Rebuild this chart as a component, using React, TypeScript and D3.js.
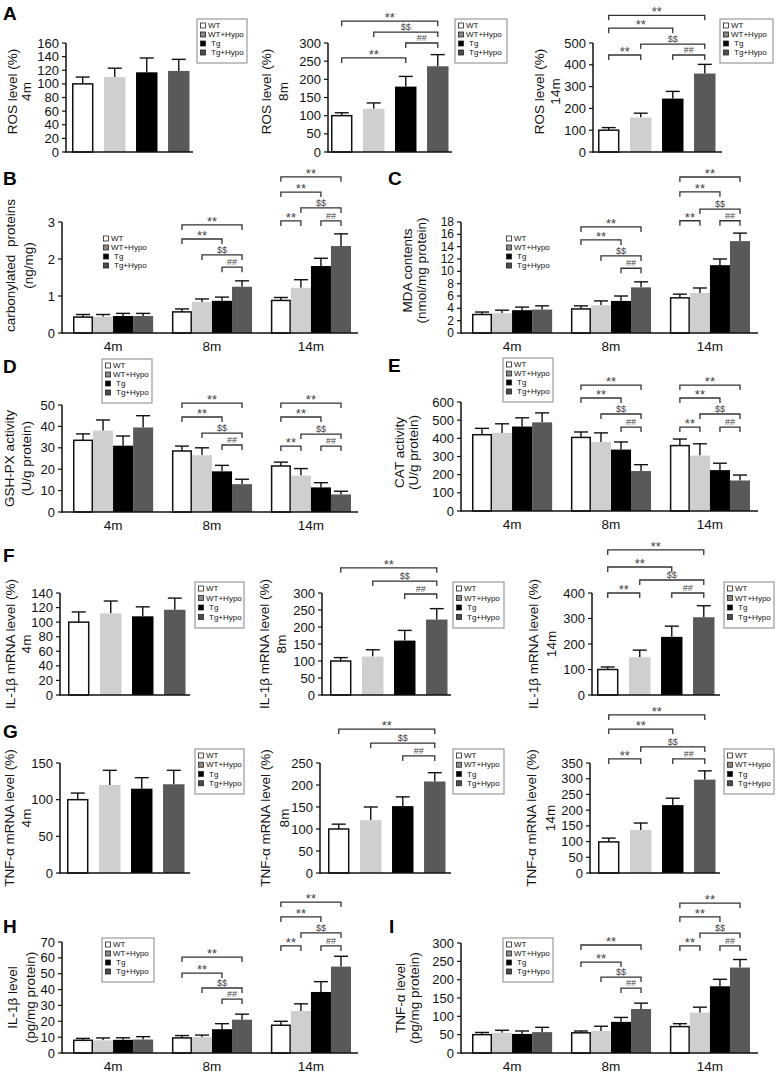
import * as d3 from "d3";

const FONT = "'Liberation Sans', Arial, Helvetica, sans-serif";

const groups = ["WT", "WT+Hypo", "Tg", "Tg+Hypo"];
const ages = ["4m", "8m", "14m"];
const barFill = ["#ffffff", "#cfcfcf", "#000000", "#595959"];
const keyFill = ["#ffffff", "#8a8a8a", "#000000", "#4d4d4d"];

// A - ROS level (%), one chart per age
const rosMean = [[100, 110, 117, 119], [100, 119, 180, 236], [100, 158, 245, 360]];
const rosSem = [[10, 13, 21, 17], [8, 16, 28, 32], [12, 20, 33, 42]];
const rosTicks = [[0, 20, 40, 60, 80, 100, 120, 140, 160], [0, 50, 100, 150, 200, 250, 300], [0, 100, 200, 300, 400, 500]];
const rosSig: [number, number, string, number][][] = [
  [],
  [[0, 3, "**", 360], [1, 3, "$$", 330], [2, 3, "##", 300], [0, 2, "**", 259]],
  [[0, 3, "**", 627], [0, 2, "**", 568], [1, 3, "$$", 495], [0, 1, "**", 445], [2, 3, "##", 445]],
];

// B - carbonylated proteins (ng/mg)
const carbMean = [[0.43, 0.44, 0.46, 0.46], [0.57, 0.84, 0.87, 1.25], [0.88, 1.22, 1.81, 2.35]];
const carbSem = [[0.07, 0.06, 0.07, 0.07], [0.08, 0.08, 0.1, 0.16], [0.08, 0.22, 0.21, 0.33]];
const carbTicks = [0, 1, 2, 3];
const carbSig: [number, number, number, string, number][] = [
  [1, 0, 3, "**", 2.92], [1, 0, 2, "**", 2.54], [1, 1, 3, "$$", 2.11], [1, 2, 3, "##", 1.78],
  [2, 0, 3, "**", 4.22], [2, 0, 2, "**", 3.81], [2, 1, 3, "$$", 3.38], [2, 0, 1, "**", 3.03], [2, 2, 3, "##", 3.03],
];

// C - MDA contents
const mdaMean = [[3.0, 3.2, 3.7, 3.8], [3.9, 4.5, 5.2, 7.4], [5.7, 6.5, 11.0, 14.9]];
const mdaSem = [[0.4, 0.5, 0.5, 0.6], [0.5, 0.7, 0.8, 0.9], [0.6, 0.8, 1.0, 1.3]];
const mdaTicks = [0, 2, 4, 6, 8, 10, 12, 14, 16, 18];
const mdaSig: [number, number, number, string, number][] = [
  [1, 0, 3, "**", 17.2], [1, 0, 2, "**", 15.1], [1, 1, 3, "$$", 12.5], [1, 2, 3, "##", 10.5],
  [2, 0, 3, "**", 25.3], [2, 0, 2, "**", 22.9], [2, 1, 3, "$$", 20.1], [2, 0, 1, "**", 18.2], [2, 2, 3, "##", 18.2],
];

// D - GSH-PX activity
const gshMean = [[33.5, 38, 31, 39.5], [28.5, 26.5, 19, 13], [21.5, 17, 11.5, 8.2]];
const gshSem = [[3, 5, 4.5, 5.5], [2.3, 3.5, 2.8, 2.3], [1.8, 3.3, 2.2, 1.5]];
const gshTicks = [0, 10, 20, 30, 40, 50];
const gshSig: [number, number, number, string, number][] = [
  [1, 0, 3, "**", 50.9], [1, 0, 2, "**", 44.4], [1, 1, 3, "$$", 36.9], [1, 2, 3, "##", 31.3],
  [2, 0, 3, "**", 50.9], [2, 0, 2, "**", 44.4], [2, 1, 3, "$$", 36.4], [2, 0, 1, "**", 30.8], [2, 2, 3, "##", 30.8],
];

// E - CAT activity
const catMean = [[420, 430, 465, 488], [405, 380, 338, 220], [360, 305, 225, 168]];
const catSem = [[35, 50, 48, 52], [30, 50, 42, 35], [36, 65, 38, 30]];
const catTicks = [0, 100, 200, 300, 400, 500, 600];
const catSig: [number, number, number, string, number][] = [
  [1, 0, 3, "**", 693], [1, 0, 2, "**", 622], [1, 1, 3, "$$", 534], [1, 2, 3, "##", 462],
  [2, 0, 3, "**", 693], [2, 0, 2, "**", 622], [2, 1, 3, "$$", 534], [2, 0, 1, "**", 462], [2, 2, 3, "##", 462],
];

// F - IL-1β mRNA level (%)
const il1mMean = [[100, 112, 108, 117], [100, 113, 160, 222], [100, 148, 228, 305]];
const il1mSem = [[14, 17, 13, 16], [10, 20, 30, 32], [10, 28, 42, 45]];
const il1mTicks = [[0, 20, 40, 60, 80, 100, 120, 140], [0, 50, 100, 150, 200, 250, 300], [0, 100, 200, 300, 400]];
const il1mSig: [number, number, string, number][][] = [
  [],
  [[0, 3, "**", 374], [1, 3, "$$", 335], [2, 3, "##", 297]],
  [[0, 3, "**", 569], [0, 2, "**", 502], [1, 3, "$$", 451], [0, 1, "**", 400], [2, 3, "##", 400]],
];

// G - TNF-α mRNA level (%)
const tnfmMean = [[100, 120, 115, 121], [100, 120, 152, 208], [99, 137, 216, 297]];
const tnfmSem = [[9, 20, 15, 19], [11, 30, 21, 20], [12, 22, 22, 28]];
const tnfmTicks = [[0, 50, 100, 150], [0, 50, 100, 150, 200, 250], [0, 50, 100, 150, 200, 250, 300, 350]];
const tnfmSig: [number, number, string, number][][] = [
  [],
  [[0, 3, "**", 327], [1, 3, "$$", 295], [2, 3, "##", 266]],
  [[0, 3, "**", 503], [0, 2, "**", 458], [1, 3, "$$", 401], [0, 1, "**", 363], [2, 3, "##", 363]],
];

// H - IL-1β level (pg/mg protein)
const il1Mean = [[8, 8, 8.3, 8.5], [9.5, 10, 15, 21], [17.5, 26.5, 38.5, 54.5]];
const il1Sem = [[1.2, 1.5, 1.3, 1.8], [1.5, 1.3, 3.5, 3.5], [2.5, 4.5, 6.5, 6.5]];
const il1Ticks = [0, 10, 20, 30, 40, 50, 60, 70];
const il1Sig: [number, number, number, string, number][] = [
  [1, 0, 3, "**", 60.5], [1, 0, 2, "**", 50.4], [1, 1, 3, "$$", 41], [1, 2, 3, "##", 34],
  [2, 0, 3, "**", 95.2], [2, 0, 2, "**", 85.8], [2, 1, 3, "$$", 75.7], [2, 0, 1, "**", 67.5], [2, 2, 3, "##", 67.5],
];

// I - TNF-α level (pg/mg protein)
const tnfMean = [[50, 55, 52, 57], [55, 60, 85, 120], [72, 110, 182, 233]];
const tnfSem = [[6, 7, 8, 13], [5, 13, 12, 16], [8, 15, 19, 22]];
const tnfTicks = [0, 50, 100, 150, 200, 250, 300];
const tnfSig: [number, number, number, string, number][] = [
  [1, 0, 3, "**", 294.5], [1, 0, 2, "**", 248], [1, 1, 3, "$$", 207], [1, 2, 3, "##", 177],
  [2, 0, 3, "**", 409], [2, 0, 2, "**", 371], [2, 1, 3, "$$", 327], [2, 0, 1, "**", 292], [2, 2, 3, "##", 292],
];

function Legend({ box }: { box: number[] }) {
  const [x, y, w, h, border] = box;
  const step = (h - 8) / 4;
  return (
    <g fontFamily={FONT} fontSize={8} fill="#111">
      {border ? <rect x={x} y={y} width={w} height={h} fill="white" stroke="#999" strokeWidth={1.2} /> : null}
      {groups.map((g, i) => {
        const cy = y + 6.5 + step * i;
        return (
          <g key={g}>
            <rect x={x + 3.5} y={cy - 2.5} width={5} height={5} fill={keyFill[i]} stroke="#222" strokeWidth={0.8} />
            <text x={x + 11 + (i >= 2 ? 3 : 0)} y={cy} dominantBaseline="central">{g}</text>
          </g>
        );
      })}
    </g>
  );
}

function YLabel({ xs, cy, lines }: { xs: number[]; cy: number; lines: string[] }) {
  return (
    <g fontFamily={FONT} fontSize={13.5} fill="#111">
      {lines.map((l, i) => (
        <text key={i} transform={`translate(${xs[i]},${cy}) rotate(-90)`} textAnchor="middle" dominantBaseline="central"
          style={{ whiteSpace: "pre" }}>{l}</text>
      ))}
    </g>
  );
}

function Axes({ y, ax, axEnd, ticks, fs }: { y: d3.ScaleLinear<number, number>; ax: number; axEnd: number; ticks: number[]; fs: number }) {
  const y0 = y(0);
  const yt = y(ticks[ticks.length - 1]);
  return (
    <g fontFamily={FONT} fontSize={fs} fill="#111">
      <line x1={ax} x2={ax} y1={y0 + 0.75} y2={yt} stroke="#111" strokeWidth={1.5} />
      <line x1={ax} x2={axEnd} y1={y0} y2={y0} stroke="#111" strokeWidth={1.5} />
      {ticks.map((t) => (
        <g key={t}>
          <line x1={ax - 4} x2={ax} y1={y(t)} y2={y(t)} stroke="#111" strokeWidth={1.2} />
          <text x={ax - 7} y={y(t)} textAnchor="end" dominantBaseline="central">{t}</text>
        </g>
      ))}
    </g>
  );
}

function Bracket({ xa, xb, yv, label }: { xa: number; xb: number; yv: number; label: string }) {
  const star = label === "**";
  return (
    <g>
      <path d={`M${xa},${yv + 5}V${yv}H${xb}V${yv + 5}`} fill="none" stroke="#333" strokeWidth={1.3} />
      <text x={(xa + xb) / 2} y={star ? yv + 1 : yv - 2} textAnchor="middle" fontFamily={FONT}
        fontSize={star ? 13 : 9} fill="#444">{label}</text>
    </g>
  );
}

function Bars({ xs, bw, y, mean, sem, cap }: { xs: number[]; bw: number; y: d3.ScaleLinear<number, number>; mean: number[]; sem: number[]; cap: number }) {
  return (
    <g>
      {mean.map((v, i) => {
        const cx = xs[i] + bw / 2;
        return (
          <g key={i}>
            <line x1={cx} x2={cx} y1={y(v)} y2={y(v + sem[i])} stroke="#111" strokeWidth={1.4} />
            <line x1={cx - cap} x2={cx + cap} y1={y(v + sem[i])} y2={y(v + sem[i])} stroke="#111" strokeWidth={1.4} />
            <rect x={xs[i] + (i === 0 ? 0.75 : 0)} y={y(v)} width={bw - (i === 0 ? 1.5 : 0)} height={y(0) - y(v)}
              fill={barFill[i]} stroke={i === 0 ? "#111" : "none"} strokeWidth={1.5} />
          </g>
        );
      })}
    </g>
  );
}

type SingleCfg = { ax: number; bx: number; axEnd: number; yTop: number; yBot: number; lx: number[]; dy: number; legend: number[] };

function Single({ cfg, mean, sem, ticks, sig, lines }: { cfg: SingleCfg; mean: number[]; sem: number[]; ticks: number[]; sig: [number, number, string, number][]; lines: string[] }) {
  const y = d3.scaleLinear().domain([0, ticks[ticks.length - 1]]).range([cfg.yBot, cfg.yTop]);
  const x = d3.scaleBand().domain(groups).range([cfg.bx, cfg.bx + 117.5]).paddingInner(0.33);
  const bw = x.bandwidth();
  const cxOf = (i: number) => (x(groups[i]) as number) + bw / 2;
  return (
    <g>
      <YLabel xs={cfg.lx} cy={(cfg.yTop + cfg.yBot) / 2 + cfg.dy} lines={lines} />
      <Bars xs={groups.map((g) => x(g) as number)} bw={bw} y={y} mean={mean} sem={sem} cap={7} />
      <Axes y={y} ax={cfg.ax} axEnd={cfg.axEnd} ticks={ticks} fs={13} />
      {sig.map(([a, b, t, v], i) => <Bracket key={i} xa={cxOf(a)} xb={cxOf(b)} yv={y(v)} label={t} />)}
      <Legend box={cfg.legend} />
    </g>
  );
}

type GroupCfg = { ax: number; gx: number; axEnd: number; yTop: number; yBot: number; lx: number[]; dy: number; legend: number[]; fs?: number };

function Grouped({ cfg, mean, sem, ticks, sig, lines }: { cfg: GroupCfg; mean: number[][]; sem: number[][]; ticks: number[]; sig: [number, number, number, string, number][]; lines: string[] }) {
  const y = d3.scaleLinear().domain([0, ticks[ticks.length - 1]]).range([cfg.yBot, cfg.yTop]);
  const outer = d3.scaleBand().domain(ages).range([cfg.gx, cfg.gx + 278]).paddingInner(0.19);
  const inner = d3.scaleBand().domain(groups).range([0, outer.bandwidth()]);
  const bw = inner.bandwidth();
  const cxOf = (g: number, i: number) => (outer(ages[g]) as number) + (inner(groups[i]) as number) + bw / 2;
  return (
    <g>
      <YLabel xs={cfg.lx} cy={(cfg.yTop + cfg.yBot) / 2 + cfg.dy} lines={lines} />
      {ages.map((a, g) => (
        <Bars key={a} xs={groups.map((k) => (outer(a) as number) + (inner(k) as number))} bw={bw} y={y}
          mean={mean[g]} sem={sem[g]} cap={7} />
      ))}
      <Axes y={y} ax={cfg.ax} axEnd={cfg.axEnd} ticks={ticks} fs={cfg.fs ?? 13} />
      {ages.map((a) => (
        <text key={a} x={(outer(a) as number) + outer.bandwidth() / 2} y={cfg.yBot + 13} textAnchor="middle"
          dominantBaseline="central" fontFamily={FONT} fontSize={13.5} fill="#111">{a}</text>
      ))}
      {sig.map(([g, a, b, t, v], i) => <Bracket key={i} xa={cxOf(g, a)} xb={cxOf(g, b)} yv={y(v)} label={t} />)}
      <Legend box={cfg.legend} />
    </g>
  );
}

function Letter({ x, y, t }: { x: number; y: number; t: string }) {
  return <text x={x} y={y} fontFamily={FONT} fontWeight="bold" fontSize={19} fill="#000">{t}</text>;
}

const rowA: SingleCfg[] = [
  { ax: 66, bx: 72, axEnd: 193, yTop: 43, yBot: 152, lx: [12, 26], dy: -6, legend: [197, 19, 50, 44, 1] },
  { ax: 328, bx: 331, axEnd: 452, yTop: 43, yBot: 152, lx: [266, 283], dy: -6, legend: [455, 19, 52, 44, 1] },
  { ax: 593, bx: 598, axEnd: 722, yTop: 43, yBot: 152, lx: [539, 555], dy: -6, legend: [720, 19, 53, 44, 1] },
];
const rowF: SingleCfg[] = [
  { ax: 60, bx: 68, axEnd: 190, yTop: 593, yBot: 695, lx: [10, 26], dy: 0, legend: [195, 582, 49, 46, 1] },
  { ax: 322, bx: 330, axEnd: 451, yTop: 593, yBot: 695, lx: [264, 281], dy: 0, legend: [453, 582, 51, 46, 1] },
  { ax: 592, bx: 597, axEnd: 720, yTop: 593, yBot: 695, lx: [533, 551], dy: 0, legend: [724, 582, 50, 46, 1] },
];
const rowG: SingleCfg[] = [
  { ax: 60, bx: 67, axEnd: 190, yTop: 763, yBot: 873, lx: [9, 26], dy: 0, legend: [195, 749, 49, 45, 1] },
  { ax: 320, bx: 328, axEnd: 451, yTop: 763, yBot: 873, lx: [265, 284], dy: 0, legend: [453, 749, 51, 45, 1] },
  { ax: 590, bx: 598, axEnd: 720, yTop: 763, yBot: 873, lx: [531, 550], dy: 0, legend: [724, 749, 50, 45, 1] },
];
const ageLabel = ["4m", "8m", "14m"];

export default function App() {
  return (
    <div style={{ position: "absolute", left: 0, top: 0, width: 777, height: 1073, background: "#fff" }}>
      <svg width={777} height={1073} viewBox="0 0 777 1073" style={{ display: "block" }}>
        <rect width={777} height={1073} fill="#fff" />
        <Letter x={3} y={20} t="A" />
        {rowA.map((c, i) => (
          <Single key={i} cfg={c} mean={rosMean[i]} sem={rosSem[i]} ticks={rosTicks[i]} sig={rosSig[i]}
            lines={["ROS level (%)", ageLabel[i]]} />
        ))}

        <Letter x={3} y={185} t="B" />
        <Grouped cfg={{ ax: 62, gx: 73, axEnd: 358, yTop: 222, yBot: 333, lx: [10, 28], dy: -12, legend: [100, 232, 50, 44, 0] }}
          mean={carbMean} sem={carbSem} ticks={carbTicks} sig={carbSig} lines={["carbonylated  proteins", "(ng/mg)"]} />
        <Letter x={388} y={185} t="C" />
        <Grouped cfg={{ ax: 461, gx: 472, axEnd: 758, yTop: 222, yBot: 333, lx: [407, 421], dy: -7, legend: [503, 232, 50, 44, 0], fs: 12 }}
          mean={mdaMean} sem={mdaSem} ticks={mdaTicks} sig={mdaSig} lines={["MDA contents", "(nmol/mg protein)"]} />

        <Letter x={3} y={373} t="D" />
        <Grouped cfg={{ ax: 62, gx: 73, axEnd: 358, yTop: 405, yBot: 512, lx: [9, 26], dy: 0, legend: [102, 359, 50, 44, 1] }}
          mean={gshMean} sem={gshSem} ticks={gshTicks} sig={gshSig} lines={["GSH-PX activity", "(U/g protein)"]} />
        <Letter x={388} y={372} t="E" />
        <Grouped cfg={{ ax: 461, gx: 472, axEnd: 758, yTop: 402, yBot: 511, lx: [399, 413], dy: -4, legend: [503, 358, 50, 44, 1] }}
          mean={catMean} sem={catSem} ticks={catTicks} sig={catSig} lines={["CAT activity", "(U/g protein)"]} />

        <Letter x={3} y={562} t="F" />
        {rowF.map((c, i) => (
          <Single key={i} cfg={c} mean={il1mMean[i]} sem={il1mSem[i]} ticks={il1mTicks[i]} sig={il1mSig[i]}
            lines={["IL-1β mRNA level (%)", ageLabel[i]]} />
        ))}

        <Letter x={3} y={738} t="G" />
        {rowG.map((c, i) => (
          <Single key={i} cfg={c} mean={tnfmMean[i]} sem={tnfmSem[i]} ticks={tnfmTicks[i]} sig={tnfmSig[i]}
            lines={["TNF-α mRNA level (%)", ageLabel[i]]} />
        ))}

        <Letter x={3} y={933} t="H" />
        <Grouped cfg={{ ax: 62, gx: 73, axEnd: 358, yTop: 942, yBot: 1053, lx: [12, 30], dy: 0, legend: [102, 938, 52, 44, 1] }}
          mean={il1Mean} sem={il1Sem} ticks={il1Ticks} sig={il1Sig} lines={["IL-1β level", "(pg/mg protein)"]} />
        <Letter x={389} y={933} t="I" />
        <Grouped cfg={{ ax: 461, gx: 472, axEnd: 758, yTop: 943, yBot: 1053, lx: [400, 414], dy: 0, legend: [503, 938, 50, 44, 1] }}
          mean={tnfMean} sem={tnfSem} ticks={tnfTicks} sig={tnfSig} lines={["TNF-α level", "(pg/mg protein)"]} />
      </svg>
    </div>
  );
}
